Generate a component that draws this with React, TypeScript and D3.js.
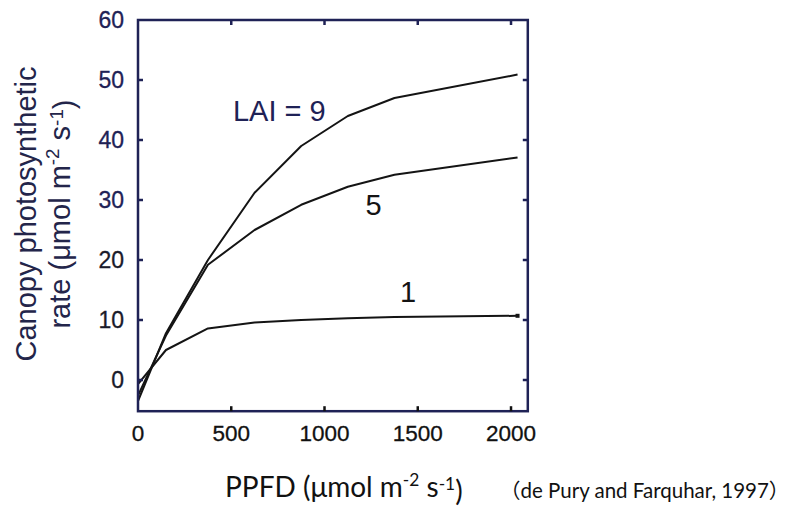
import React from "react";
import * as d3 from "d3";

// PPFD (µmol m-2 s-1)
const ppfd = [0, 150, 375, 625, 875, 1125, 1375, 2035];
// Canopy photosynthetic rate for each LAI
const laiLabels = ["9", "5", "1"];
const lai9 = [-3.5, 7.8, 20.0, 31.2, 39.0, 44.0, 47.0, 50.9];
const lai5 = [-2.6, 7.4, 19.2, 25.0, 29.2, 32.2, 34.2, 37.1];
const lai1 = [-0.7, 5.0, 8.6, 9.6, 10.0, 10.3, 10.5, 10.7];
const xTicks = [0, 500, 1000, 1500, 2000];
const yTicks = [0, 10, 20, 30, 40, 50, 60];
// label anchor positions in data units
const labelX = [509, 1220, 1405];
const labelY = [43.2, 27.5, 13];
const labelText = ["LAI = 9", "5", "1"];

const W = 803;
const H = 507;
const navy = "#1f2256";
const arial = "'Liberation Sans', Arial, sans-serif";
const calibri = "Lato, 'Open Sans', sans-serif";

export default function App() {
  const x = d3.scaleLinear().domain([0, 2090]).range([138, 527.8]);
  const y = d3.scaleLinear().domain([-5.2, 60]).range([411.2, 20]);
  const series = [lai9, lai5, lai1];
  const line = d3
    .line<number>()
    .x((_, i) => x(ppfd[i]))
    .y((d) => y(d));
  const x0 = x.range()[0];
  const x1 = x.range()[1];
  const y0 = y.range()[0];
  const y1 = y.range()[1];
  const tl = 5;
  return (
    <svg
      width={W}
      height={H}
      style={{ position: "absolute", left: 0, top: 0, background: "#fff" }}
    >
      {/* curves */}
      {series.map((s, k) => (
        <path
          key={laiLabels[k]}
          d={line(s) || ""}
          fill="none"
          stroke="#141414"
          strokeWidth={2}
          strokeLinejoin="round"
        />
      ))}
      <rect
        x={x(ppfd[ppfd.length - 1]) - 2}
        y={y(lai1[lai1.length - 1]) - 2}
        width={4}
        height={4}
        fill="#141414"
      />
      {/* frame */}
      <rect
        x={x0}
        y={y1}
        width={x1 - x0}
        height={y0 - y1}
        fill="none"
        stroke={navy}
        strokeWidth={2.5}
      />
      {/* ticks */}
      {yTicks.slice(0, -1).map((t) => (
        <g key={"yt" + t}>
          <line x1={x0} x2={x0 + tl} y1={y(t)} y2={y(t)} stroke={navy} strokeWidth={2.5} />
          <line x1={x1} x2={x1 - tl} y1={y(t)} y2={y(t)} stroke={navy} strokeWidth={2.5} />
        </g>
      ))}
      {xTicks.slice(1).map((t) => (
        <g key={"xt" + t}>
          <line x1={x(t)} x2={x(t)} y1={y0} y2={y0 - tl} stroke="#111" strokeWidth={2.5} />
          <line x1={x(t)} x2={x(t)} y1={y1} y2={y1 + tl} stroke={navy} strokeWidth={2.5} />
        </g>
      ))}
      {/* tick labels */}
      {yTicks.map((t) => (
        <text
          key={"yl" + t}
          x={124}
          y={y(t)}
          dy="0.36em"
          textAnchor="end"
          fontFamily={arial}
          fontSize={23}
          fill={t >= 30 ? navy : "#1a1a2a"}
          stroke={t >= 30 ? navy : "#1a1a2a"}
          strokeWidth={0.3}
        >
          {t}
        </text>
      ))}
      {xTicks.map((t) => (
        <text
          key={"xl" + t}
          x={x(t)}
          y={441}
          textAnchor="middle"
          fontFamily={arial}
          fontSize={22.5}
          fill="#111"
          stroke="#111"
          strokeWidth={0.3}
        >
          {t}
        </text>
      ))}
      {/* annotations */}
      {labelText.map((s, i) => (
        <text
          key={"lab" + i}
          x={x(labelX[i])}
          y={y(labelY[i])}
          fontFamily={arial}
          fontSize={29}
          fill={i === 0 ? navy : "#141414"}
        >
          {s}
        </text>
      ))}
      {/* y title */}
      <g transform="translate(36,214) rotate(-90)">
        <text textAnchor="middle" fontFamily={arial} fontSize={29} fill="#23254a">
          Canopy photosynthetic
        </text>
      </g>
      <g transform="translate(70,214) rotate(-90)">
        <text textAnchor="middle" fontFamily={arial} fontSize={29} fill="#23254a">
          rate (μmol m
          <tspan fontSize="0.65em" dy="-0.6em">-2</tspan>
          <tspan dy="0.39em"> s</tspan>
          <tspan fontSize="0.65em" dy="-0.39em">-1</tspan>
          <tspan dy="0.39em">)</tspan>
        </text>
      </g>
      {/* x title */}
      <text x={225} y={497} fontFamily={calibri} fontSize={28} fill="#111">
        PPFD (μmol m
        <tspan fontSize="0.62em" dy="-0.62em">-2</tspan>
        <tspan dy="0.38em"> s</tspan>
        <tspan fontSize="0.62em" dy="-0.38em">-1</tspan>
        <tspan dy="0.38em">)</tspan>
      </text>
      <text x={500} y={498} fontFamily={calibri} fontSize={20.5} fill="#111">
        <tspan fontFamily="'Noto Sans CJK JP'">（</tspan>
        de Pury and Farquhar, 1997
        <tspan fontFamily="'Noto Sans CJK JP'">）</tspan>
      </text>
    </svg>
  );
}
